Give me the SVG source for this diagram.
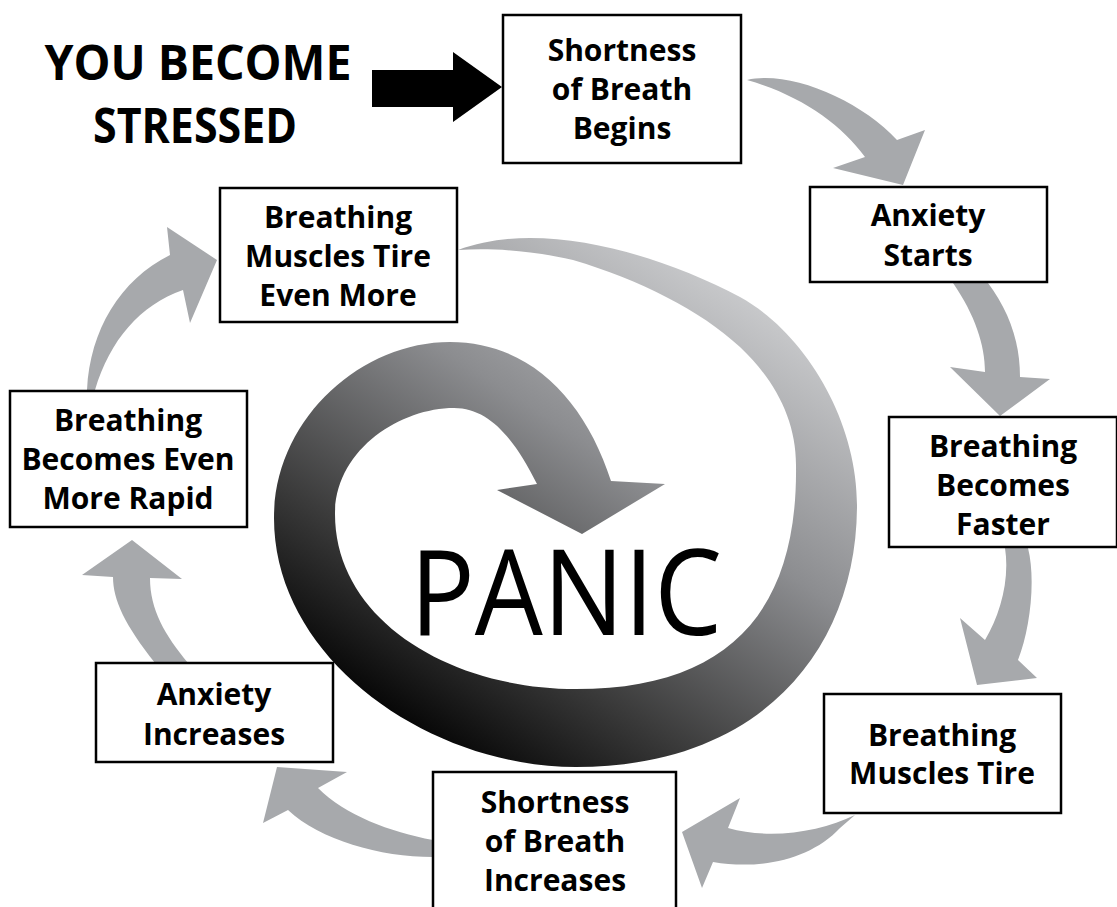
<svg xmlns="http://www.w3.org/2000/svg" width="1117" height="907" viewBox="0 0 1117 907">
<style>
.box{fill:#fff;stroke:#000;stroke-width:2.5}
.lbl{font-family:"Open Sans","Liberation Sans",sans-serif;font-weight:700;font-size:30px;fill:#000;text-anchor:middle}
.ga{fill:#a7a9ac}
</style>
<defs>
<linearGradient id="spg" gradientUnits="userSpaceOnUse" x1="400" y1="740" x2="720" y2="250">
<stop offset="0" stop-color="#000"/>
<stop offset="0.25" stop-color="#3a3a3a"/>
<stop offset="0.6" stop-color="#8c8d90"/>
<stop offset="1" stop-color="#cfd0d2"/>
</linearGradient>
</defs>
<rect width="1117" height="907" fill="#fff"/>
<g id="title">
<text x="198" y="80" font-family="Open Sans, Liberation Sans, sans-serif" font-weight="700" font-size="49" text-anchor="middle" textLength="307" lengthAdjust="spacingAndGlyphs">YOU BECOME</text>
<text x="195" y="143" font-family="Open Sans, Liberation Sans, sans-serif" font-weight="700" font-size="49" text-anchor="middle" textLength="204" lengthAdjust="spacingAndGlyphs">STRESSED</text>
</g>
<g id="panic">
<path fill="url(#spg)" d="M458,250 C480,242 505,238 530,238 C600,238 680,265 740,297 C805,333 857,420 857,505 C857,650 760,767 576,767 C430,767 274,660 274,518 C274,420 360,342 450,342 C530,342 585,400 611,481 L665,484 L582,534 L497,490 L537,484 C515,440 490,408 454,408 C400,408 335,450 335,514 C335,620 450,689 576,689 C730,689 798,610 796,465 C796,420 775,380 740,347 C700,310 640,280 573,260 C530,250 490,248 458,250 Z"/>
<text x="566" y="635" font-family="Open Sans, Liberation Sans, sans-serif" font-weight="400" font-size="119" text-anchor="middle" textLength="312" lengthAdjust="spacingAndGlyphs">PANIC</text>
</g>
<g id="connectors">
<path fill="#000" d="M372,70 L453,70 L453,52 L502,87 L453,122 L453,107 L372,107 Z"/>
<path class="ga" d="M747,80 C790,70 860,100 897,140 L925,130 L903,185 L833,168 L865,157 C840,123 800,95 747,80 Z"/>
<path class="ga" d="M953,283 C975,315 985,345 985,372 L950,367 L1000,416 L1050,379 L1020,377 C1020,340 1008,310 988,283 Z"/>
<path class="ga" d="M1028,548 C1036,580 1030,630 1018,660 L1037,678 L977,685 L960,618 L985,640 C1000,615 1010,580 1005,548 Z"/>
<path class="ga" d="M855,815 C820,832 770,840 728,828 L740,798 L682,832 L702,888 L713,862 C760,870 810,860 840,828 Z"/>
<path class="ga" d="M433,840 C390,832 345,815 318,788 L347,772 L277,767 L263,823 L288,810 C320,840 380,857 433,857 Z"/>
<path class="ga" d="M155,663 C125,625 113,600 113,577 L82,575 L132,540 L182,579 L150,578 C150,610 165,635 188,663 Z"/>
<path class="ga" d="M87,390 C90,330 120,280 170,255 L167,227 L217,260 L190,323 L183,290 C140,305 110,340 95,390 Z"/>
</g>
<g id="n1"><rect class="box" x="503" y="15" width="238" height="148"/><text class="lbl" x="622" y="61">Shortness</text><text class="lbl" x="622" y="100">of Breath</text><text class="lbl" x="622" y="139">Begins</text></g>
<g id="n2"><rect class="box" x="810" y="187" width="237" height="95"/><text class="lbl" x="928" y="226">Anxiety</text><text class="lbl" x="928" y="266">Starts</text></g>
<g id="n3"><rect class="box" x="889" y="417" width="228" height="130"/><text class="lbl" x="1003" y="457">Breathing</text><text class="lbl" x="1003" y="496">Becomes</text><text class="lbl" x="1003" y="535">Faster</text></g>
<g id="n4"><rect class="box" x="824" y="694" width="237" height="119"/><text class="lbl" x="942" y="746">Breathing</text><text class="lbl" x="942" y="784">Muscles Tire</text></g>
<g id="n5"><rect class="box" x="433" y="772" width="243" height="150"/><text class="lbl" x="555" y="813">Shortness</text><text class="lbl" x="555" y="852">of Breath</text><text class="lbl" x="555" y="891">Increases</text></g>
<g id="n6"><rect class="box" x="96" y="663" width="237" height="99"/><text class="lbl" x="214" y="705">Anxiety</text><text class="lbl" x="214" y="745">Increases</text></g>
<g id="n7"><rect class="box" x="10" y="391" width="237" height="136"/><text class="lbl" x="128" y="431">Breathing</text><text class="lbl" x="128" y="470">Becomes Even</text><text class="lbl" x="128" y="509">More Rapid</text></g>
<g id="n8"><rect class="box" x="220" y="188" width="237" height="134"/><text class="lbl" x="338" y="228">Breathing</text><text class="lbl" x="338" y="267">Muscles Tire</text><text class="lbl" x="338" y="306">Even More</text></g>
</svg>
